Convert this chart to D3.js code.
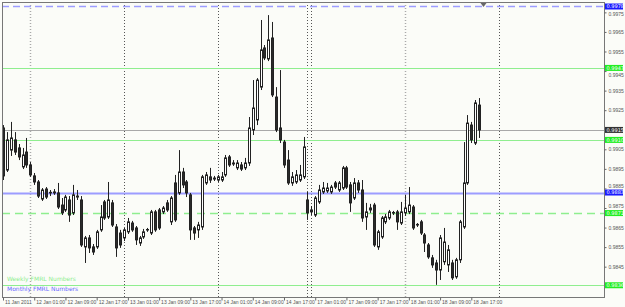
<!DOCTYPE html>
<html>
<head>
<meta charset="utf-8">
<script src="https://cdn.jsdelivr.net/npm/d3@7"></script>
<style>
  body { margin: 0; background: #fbfcf8; }
  svg { display: block; font-family: "DejaVu Sans", sans-serif; }
</style>
</head>
<body>
<div id="chart"></div>
<script>
// hourly bars, 11 Jan 2011 17:00 -> 18 Jan 2011 19:00
const open = [
  0.99159, 0.98944, 0.99046, 0.99098, 0.99057, 0.98960, 0.99036, 0.98970, 0.98914, 0.98883,
  0.98796, 0.98847, 0.98827, 0.98832, 0.98827, 0.98765, 0.98740, 0.98791, 0.98725, 0.98806,
  0.98791, 0.98551, 0.98597, 0.98551, 0.98551, 0.98638, 0.98781, 0.98704, 0.98776, 0.98653,
  0.98622, 0.98597, 0.98628, 0.98673, 0.98648, 0.98571, 0.98602, 0.98638, 0.98622, 0.98730,
  0.98740, 0.98730, 0.98776, 0.98679, 0.98878, 0.98827, 0.98934, 0.98883, 0.98817, 0.98648,
  0.98638, 0.98653, 0.98878, 0.98909, 0.98898, 0.98893, 0.98893, 0.98919, 0.99011, 0.98975,
  0.98955, 0.98970, 0.98955, 0.98980, 0.99149, 0.99200, 0.99368, 0.99568, 0.99512, 0.99619,
  0.99317, 0.99159, 0.99087, 0.98995, 0.98878, 0.98883, 0.98893, 0.98909, 0.98791, 0.98730,
  0.98714, 0.98781, 0.98832, 0.98837, 0.98832, 0.98878, 0.98842, 0.98852, 0.98955, 0.98868,
  0.98801, 0.98878, 0.98842, 0.98704, 0.98740, 0.98765, 0.98551, 0.98602, 0.98679, 0.98699,
  0.98725, 0.98730, 0.98673, 0.98725, 0.98730, 0.98755, 0.98663, 0.98679, 0.98612, 0.98561,
  0.98495, 0.98469, 0.98433, 0.98475, 0.98459, 0.98469, 0.98398, 0.98485, 0.98653, 0.98878,
  0.99174, 0.99082, 0.99276
];
const high = [
  0.99174, 0.99138, 0.99190, 0.99138, 0.99077, 0.99057, 0.99108, 0.98985, 0.98929, 0.98893,
  0.98852, 0.98857, 0.98842, 0.98847, 0.98878, 0.98801, 0.98817, 0.98811, 0.98868, 0.98842,
  0.98811, 0.98607, 0.98612, 0.98566, 0.98638, 0.98765, 0.98791, 0.98883, 0.98791, 0.98668,
  0.98638, 0.98648, 0.98699, 0.98684, 0.98658, 0.98607, 0.98643, 0.98648, 0.98740, 0.98740,
  0.98750, 0.98760, 0.98791, 0.98811, 0.98919, 0.99046, 0.98955, 0.98893, 0.98827, 0.98658,
  0.98679, 0.98919, 0.98934, 0.98955, 0.98914, 0.98919, 0.98934, 0.99021, 0.99021, 0.98995,
  0.98995, 0.98985, 0.99006, 0.99215, 0.99404, 0.99414, 0.99711, 0.99583, 0.99736, 0.99701,
  0.99368, 0.99455, 0.99098, 0.99046, 0.98934, 0.98944, 0.98970, 0.99113, 0.98832, 0.98760,
  0.98811, 0.98868, 0.98883, 0.98878, 0.98868, 0.98888, 0.98888, 0.98965, 0.98965, 0.98883,
  0.98903, 0.98893, 0.98893, 0.98776, 0.98771, 0.98776, 0.98638, 0.98709, 0.98719, 0.98740,
  0.98735, 0.98740, 0.98781, 0.98817, 0.98857, 0.98765, 0.98673, 0.98689, 0.98622, 0.98571,
  0.98510, 0.98485, 0.98612, 0.98648, 0.98561, 0.98485, 0.98495, 0.98689, 0.99087, 0.99225,
  0.99190, 0.99302, 0.99312
];
const low = [
  0.98893, 0.98934, 0.99016, 0.99021, 0.98995, 0.98949, 0.98955, 0.98909, 0.98868, 0.98801,
  0.98786, 0.98796, 0.98811, 0.98817, 0.98745, 0.98714, 0.98730, 0.98679, 0.98714, 0.98791,
  0.98551, 0.98469, 0.98520, 0.98510, 0.98541, 0.98628, 0.98689, 0.98694, 0.98653, 0.98500,
  0.98546, 0.98581, 0.98617, 0.98628, 0.98561, 0.98556, 0.98592, 0.98628, 0.98612, 0.98628,
  0.98638, 0.98719, 0.98730, 0.98663, 0.98679, 0.98817, 0.98852, 0.98806, 0.98587, 0.98587,
  0.98597, 0.98638, 0.98868, 0.98878, 0.98888, 0.98883, 0.98883, 0.98909, 0.98960, 0.98965,
  0.98944, 0.98939, 0.98944, 0.98965, 0.99123, 0.99174, 0.99353, 0.99506, 0.99501, 0.99317,
  0.99138, 0.99082, 0.98955, 0.98868, 0.98863, 0.98873, 0.98883, 0.98898, 0.98689, 0.98714,
  0.98704, 0.98771, 0.98822, 0.98827, 0.98822, 0.98847, 0.98832, 0.98842, 0.98847, 0.98730,
  0.98791, 0.98827, 0.98679, 0.98638, 0.98725, 0.98551, 0.98536, 0.98592, 0.98668, 0.98689,
  0.98714, 0.98638, 0.98663, 0.98709, 0.98719, 0.98638, 0.98653, 0.98612, 0.98525, 0.98490,
  0.98444, 0.98357, 0.98382, 0.98459, 0.98423, 0.98382, 0.98388, 0.98469, 0.98643, 0.98868,
  0.99082, 0.99072, 0.99108
];
const close = [
  0.98914, 0.99098, 0.99108, 0.99036, 0.99011, 0.99021, 0.98970, 0.98919, 0.98883, 0.98811,
  0.98842, 0.98806, 0.98830, 0.98827, 0.98755, 0.98725, 0.98806, 0.98714, 0.98817, 0.98811,
  0.98561, 0.98597, 0.98546, 0.98525, 0.98628, 0.98704, 0.98699, 0.98791, 0.98663, 0.98546,
  0.98561, 0.98638, 0.98679, 0.98638, 0.98587, 0.98597, 0.98628, 0.98640, 0.98730, 0.98638,
  0.98648, 0.98750, 0.98740, 0.98801, 0.98689, 0.98934, 0.98868, 0.98827, 0.98638, 0.98622,
  0.98663, 0.98909, 0.98919, 0.98893, 0.98903, 0.98909, 0.98909, 0.99006, 0.98970, 0.98980,
  0.98980, 0.98949, 0.98980, 0.99159, 0.99261, 0.99404, 0.99558, 0.99517, 0.99609, 0.99328,
  0.99149, 0.99098, 0.98970, 0.98878, 0.98909, 0.98919, 0.98919, 0.99062, 0.98725, 0.98740,
  0.98801, 0.98842, 0.98852, 0.98852, 0.98857, 0.98857, 0.98878, 0.98955, 0.98857, 0.98776,
  0.98878, 0.98842, 0.98699, 0.98730, 0.98750, 0.98561, 0.98628, 0.98699, 0.98704, 0.98730,
  0.98727, 0.98679, 0.98730, 0.98750, 0.98765, 0.98648, 0.98666, 0.98622, 0.98571, 0.98500,
  0.98459, 0.98433, 0.98597, 0.98576, 0.98536, 0.98393, 0.98485, 0.98679, 0.98878, 0.99184,
  0.99098, 0.99287, 0.99149
];

const timeTickBars = [0, 8, 16, 24, 32, 40, 48, 56, 64, 72, 80, 88, 96, 104, 112, 120];
const timeTickLabels = [
  "11 Jan 2011", "12 Jan 01:00", "12 Jan 09:00", "12 Jan 17:00", "13 Jan 01:00", "13 Jan 09:00",
  "13 Jan 17:00", "14 Jan 01:00", "14 Jan 09:00", "14 Jan 17:00", "17 Jan 01:00", "17 Jan 09:00",
  "17 Jan 17:00", "18 Jan 01:00", "18 Jan 09:00", "18 Jan 17:00"
];
// day separators (bar index of each new day)
const dayStartBars = [7, 31, 55, 78, 79, 103, 127];

// 0.9915 sits under the bid box, so it is not listed
const priceTicks = [0.9975, 0.9965, 0.9955, 0.9945, 0.9935, 0.9925, 0.9905,
                    0.9895, 0.9885, 0.9875, 0.9865, 0.9855, 0.9845];

// FMRL levels + bid line
const levelValues = [0.99780, 0.99466, 0.99149, 0.99098, 0.98829, 0.98724, 0.98355];
const levelLabels = ["0.9978", "0.9947", "0.9915", "0.9910", "0.9883", "0.9871", "0.9836"];

const weeklyText = "Weekly FMRL Numbers";
const monthlyText = "Monthly FMRL Numbers";

const W = 625, H = 307;
const plot = { left: 2, right: 604, top: 2, bottom: 297 };

const blue = "#9c9cff", green = "#8fee8f";
const levelStyles = [
  { stroke: blue, width: 1.5, dash: "7,4", box: "#1a1aff" },
  { stroke: green, width: 1, dash: null, box: "#22ee22" },
  { stroke: "#a8a8a8", width: 1, dash: null, box: "#333" },
  { stroke: green, width: 1, dash: null, box: "#22ee22" },
  { stroke: blue, width: 2, dash: null, box: "#1a1aff" },
  { stroke: green, width: 1.5, dash: "8,5", box: "#22ee22" },
  { stroke: green, width: 1, dash: null, box: "#22ee22" }
];

const bars = open.map((o, i) => ({ i, o, h: high[i], l: low[i], c: close[i] }));

const xScale = d3.scaleLinear().domain([0, 154]).range([plot.left + 1, plot.right]);
const yScale = d3.scaleLinear().domain([0.98295, 0.99803]).range([plot.bottom, plot.top]);

const svg = d3.select("#chart").append("svg")
  .attr("width", W).attr("height", H);

svg.append("rect").attr("width", W).attr("height", H).attr("fill", "#fbfcf8");

// day separators
svg.append("g").selectAll("line")
  .data(dayStartBars)
  .enter().append("line")
  .attr("x1", d => Math.round(xScale(d)) + 0.5)
  .attr("x2", d => Math.round(xScale(d)) + 0.5)
  .attr("y1", plot.top).attr("y2", plot.bottom)
  .attr("stroke", (d, k) => (k === 0 || k === 5) ? "#aaa" : "#555")
  .attr("stroke-width", (d, k) => (k === 0 || k === 5) ? 1.5 : 1)
  .attr("stroke-dasharray", "1,2");

// levels
const lev = svg.append("g");
levelValues.forEach((v, k) => {
  const s = levelStyles[k];
  const y = Math.round(yScale(v)) + 0.5;
  lev.append("line")
    .attr("x1", plot.left).attr("x2", plot.right)
    .attr("y1", y).attr("y2", y)
    .attr("stroke", s.stroke)
    .attr("stroke-width", s.width)
    .attr("stroke-dasharray", s.dash);
});

// candles
const candles = svg.append("g");
candles.selectAll("line")
  .data(bars)
  .enter().append("line")
  .attr("x1", d => Math.round(xScale(d.i)) + 0.5)
  .attr("x2", d => Math.round(xScale(d.i)) + 0.5)
  .attr("y1", d => yScale(d.h))
  .attr("y2", d => yScale(d.l))
  .attr("stroke", "#222");

candles.selectAll("rect")
  .data(bars)
  .enter().append("rect")
  .attr("x", d => Math.round(xScale(d.i)) - 0.5)
  .attr("y", d => yScale(Math.max(d.o, d.c)))
  .attr("width", 2)
  .attr("height", d => Math.max(0.5, Math.abs(yScale(d.o) - yScale(d.c))))
  .attr("fill", d => d.c >= d.o ? "#fff" : "#2a2a2a")
  .attr("stroke", "#222")
  .attr("stroke-width", 1);

// frame
svg.append("rect")
  .attr("x", plot.left + 0.5).attr("y", plot.top + 0.5)
  .attr("width", plot.right - plot.left).attr("height", plot.bottom - plot.top)
  .attr("fill", "none").attr("stroke", "#777");

// price axis
const yAxis = d3.axisRight(yScale)
  .tickValues(priceTicks)
  .tickSize(2)
  .tickPadding(2)
  .tickFormat(d3.format(".4f"));

// push a tick label off a level box if the two would collide
const nudge = v => {
  const y = yScale(v);
  for (const lv of levelValues) {
    const d = y - yScale(lv);
    if (Math.abs(d) < 7) return d > 0 ? 7 - d : -(7 + d);
  }
  return 0;
};

svg.append("g")
  .attr("transform", `translate(${plot.right + 0.5},0)`)
  .call(yAxis)
  .call(g => g.select(".domain").remove())
  .call(g => g.selectAll("line").attr("stroke", "#666"))
  .call(g => g.selectAll("text")
    .attr("fill", "#555")
    .attr("y", d => nudge(d))
    .style("font-size", "5px"));

// time axis
const xAxis = d3.axisBottom(xScale)
  .tickValues(timeTickBars)
  .tickSize(3)
  .tickFormat((d, k) => timeTickLabels[k]);

svg.append("g")
  .attr("transform", `translate(0,${plot.bottom + 0.5})`)
  .call(xAxis)
  .call(g => g.select(".domain").remove())
  .call(g => g.selectAll("line").attr("stroke", "#666"))
  .call(g => g.selectAll("text")
    .attr("fill", "#555")
    .attr("text-anchor", "start")
    .attr("x", 1.5).attr("y", 3)
    .style("font-size", "5px"));

// level price boxes
const boxes = svg.append("g");
levelValues.forEach((v, k) => {
  const s = levelStyles[k];
  const y = yScale(v);
  boxes.append("rect")
    .attr("x", plot.right + 1).attr("y", y - 3)
    .attr("width", 18).attr("height", 6)
    .attr("fill", s.box);
  boxes.append("text")
    .attr("x", plot.right + 2.5).attr("y", y + 1.7)
    .attr("fill", "#fff")
    .style("font-size", "5px")
    .text(levelLabels[k]);
});

// chart shift marker
const sx = Math.round(xScale(123)) + 0.5;
svg.append("path")
  .attr("d", `M${sx - 3},${plot.top + 1}L${sx + 3},${plot.top + 1}L${sx},${plot.top + 5}Z`)
  .attr("fill", "#666");

// legend texts
svg.append("text")
  .attr("x", 7).attr("y", 281)
  .attr("fill", green)
  .style("font-size", "6px")
  .text(weeklyText);

svg.append("text")
  .attr("x", 7).attr("y", 290.5)
  .attr("fill", "#6a6aff")
  .style("font-size", "6px")
  .text(monthlyText);
</script>
</body>
</html>
